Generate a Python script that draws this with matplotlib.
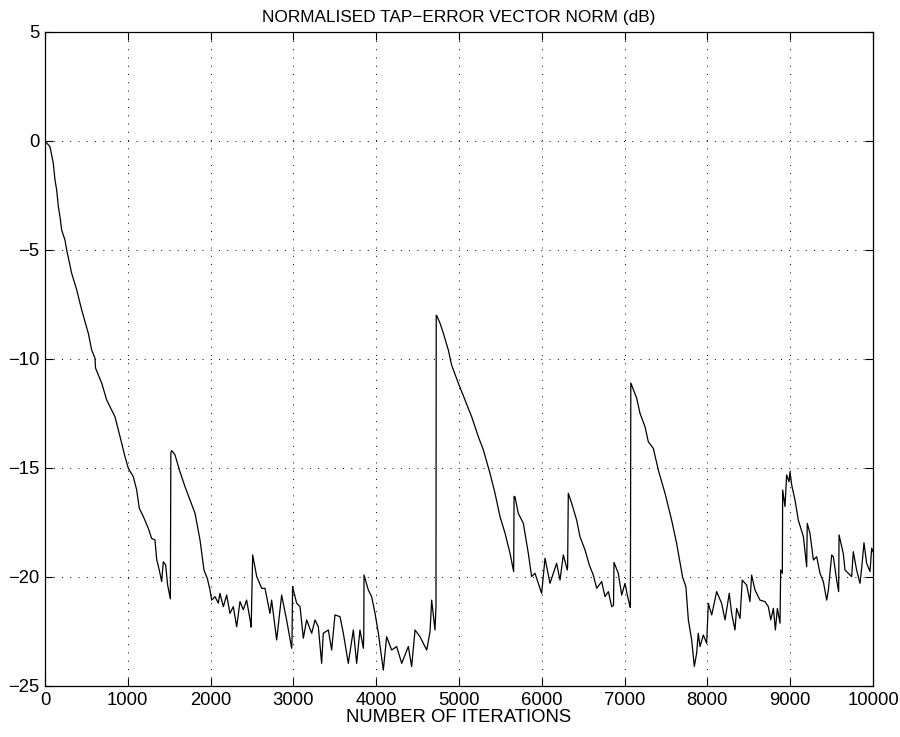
import matplotlib
matplotlib.use("Agg")
import matplotlib.pyplot as plt

plt.rcParams['font.family'] = ['Liberation Sans', 'DejaVu Sans']

iterations = [
    0, 60, 100, 121, 141, 161, 181, 201, 241, 262, 322, 383, 443, 523, 564, 604, 610, 616, 685, 745, 845, 906, 966,
    1006, 1066, 1107, 1139, 1188, 1248, 1288, 1328, 1349, 1380, 1409, 1429, 1457, 1481, 1514,
    1520, 1530, 1570, 1630, 1691, 1751, 1812, 1872, 1920, 1960, 1993, 2013, 2053, 2093, 2113,
    2154, 2194, 2234, 2274, 2315, 2355, 2395, 2435, 2484, 2490, 2508, 2557, 2617, 2657, 2717,
    2737, 2798, 2858, 2918, 2979, 2983, 2990, 3039, 3080, 3120, 3160, 3221, 3261, 3301, 3341,
    3361, 3422, 3462, 3502, 3563, 3603, 3663, 3724, 3764, 3804, 3845, 3850, 3853, 3905, 3945,
    3986, 4026, 4086, 4126, 4187, 4247, 4308, 4388, 4428, 4469, 4529, 4610, 4650, 4670, 4710,
    4722, 4725, 4730, 4771, 4811, 4871, 4911, 4992, 5072, 5153, 5233, 5294, 5374, 5435, 5495,
    5556, 5616, 5660, 5665, 5676, 5716, 5777, 5837, 5877, 5918, 5958, 5998, 6039, 6099, 6179,
    6220, 6260, 6308, 6312, 6320, 6361, 6421, 6461, 6522, 6574, 6622, 6663, 6723, 6763, 6804,
    6844, 6866, 6872, 6924, 6965, 7005, 7033, 7065, 7070, 7075, 7146, 7186, 7246, 7286, 7347,
    7407, 7488, 7568, 7628, 7700, 7740, 7770, 7810, 7842, 7870, 7890, 7911, 7951, 7991, 8011,
    8052, 8112, 8172, 8213, 8264, 8293, 8333, 8353, 8394, 8421, 8474, 8514, 8534, 8575, 8635,
    8696, 8736, 8765, 8797, 8821, 8845, 8877, 8885, 8905, 8909, 8937, 8957, 8986, 8998, 9018,
    9058, 9098, 9159, 9199, 9206, 9239, 9280, 9320, 9360, 9400, 9441, 9461, 9501, 9521, 9561,
    9585, 9590, 9641, 9662, 9702, 9742, 9762, 9802, 9843, 9863, 9891, 9923, 9964, 9984, 10000,
]

norm_db = [
    0.0, -0.26, -1.02, -1.79, -2.25, -3.0, -3.47, -4.08, -4.54, -5.0, -6.07, -6.83, -7.75, -8.82, -9.59, -9.97, -10.4, -10.47, -11.11, -11.88, -12.65, -13.56, -14.48,
    -15.01, -15.40, -16.0, -16.85, -17.23, -17.77, -18.23, -18.3, -19.2, -19.68, -20.21, -19.3, -19.45, -20.37, -21.0,
    -14.3, -14.2, -14.4, -15.17, -15.86, -16.47, -17.08, -18.3, -19.68, -20.06, -20.6, -21.06, -20.9, -21.2, -20.75,
    -21.36, -20.83, -21.67, -21.36, -22.28, -21.13, -21.5, -21.06, -22.12, -22.3, -18.99, -19.98, -20.52, -20.52, -21.67,
    -21.06, -22.89, -20.83, -21.97, -23.27, -23.0, -20.44, -21.2, -21.36, -22.81, -21.97, -22.58, -21.97, -22.28, -23.96,
    -22.58, -22.43, -23.35, -21.74, -21.82, -22.58, -23.96, -22.43, -23.96, -22.43, -23.27, -22.6, -19.91, -20.6, -20.9,
    -21.67, -22.58, -24.27, -22.74, -23.35, -23.19, -23.96, -23.19, -24.11, -22.43, -22.74, -23.35, -22.5, -21.06, -22.43,
    -21.36, -8.0, -8.0, -8.36, -8.82, -9.59, -10.28, -11.11, -11.88, -12.65, -13.56, -14.17, -15.24, -16.16, -17.23,
    -17.99, -18.91, -19.75, -16.3, -16.32, -17.08, -17.54, -18.91, -19.98, -19.83, -20.29, -20.75, -19.14, -20.29, -19.37,
    -20.14, -18.99, -19.68, -19.5, -16.16, -16.62, -17.39, -18.15, -18.76, -19.45, -19.91, -20.52, -20.21, -20.9, -20.67,
    -21.36, -21.3, -19.33, -19.83, -20.83, -20.29, -20.83, -21.36, -21.4, -11.1, -11.8, -12.49, -13.1, -13.79, -14.1,
    -15.09, -16.16, -17.39, -18.45, -20.0, -20.44, -21.97, -22.89, -24.1, -23.5, -22.58, -23.19, -22.66, -23.04, -21.21,
    -21.74, -20.67, -21.21, -21.97, -20.75, -21.67, -22.43, -21.44, -21.9, -20.14, -20.37, -21.13, -19.91, -20.6, -21.06,
    -21.13, -21.36, -21.97, -21.44, -22.43, -21.44, -22.12, -19.68, -19.83, -16.01, -16.77, -15.32, -15.63, -15.17, -15.78,
    -16.47, -17.39, -18.15, -19.53, -17.54, -18.0, -19.22, -19.07, -19.83, -20.21, -21.06, -20.6, -18.99, -19.07, -20.14,
    -20.67, -18.07, -18.92, -19.68, -19.83, -19.98, -18.84, -19.68, -20.29, -19.6, -18.43, -19.37, -19.75, -18.68, -18.84,
]

x_ticks = list(range(0, 10001, 1000))
y_ticks = [-25, -20, -15, -10, -5, 0, 5]

fig = plt.figure(figsize=(9.0, 7.37), dpi=100)
ax = fig.add_axes([0.05, 0.0692, 0.92, 0.8874])

ax.plot(iterations, norm_db, color='black', linewidth=0.9)

ax.set_xlim(0, 10000)
ax.set_ylim(-25, 5)
ax.set_xticks(x_ticks)
ax.set_yticks(y_ticks)
ax.set_xticklabels([str(t) for t in x_ticks])
ax.set_yticklabels([str(t).replace('-', '\u2212') for t in y_ticks])

ax.grid(True, color='black', linestyle=(0, (1, 7.5)), linewidth=0.7)
ax.tick_params(direction='in', length=6, width=0.8, top=True, right=True,
               labelsize=13.3)
ax.tick_params(axis='x', pad=4)
ax.tick_params(axis='y', pad=4)
for s in ax.spines.values():
    s.set_linewidth(0.9)

ax.set_title('NORMALISED TAP\u2212ERROR VECTOR NORM (dB)', fontsize=12.4, pad=7.5)
ax.set_xlabel('NUMBER OF ITERATIONS', fontsize=13.3, labelpad=0)

fig.savefig('out.png', dpi=100)
